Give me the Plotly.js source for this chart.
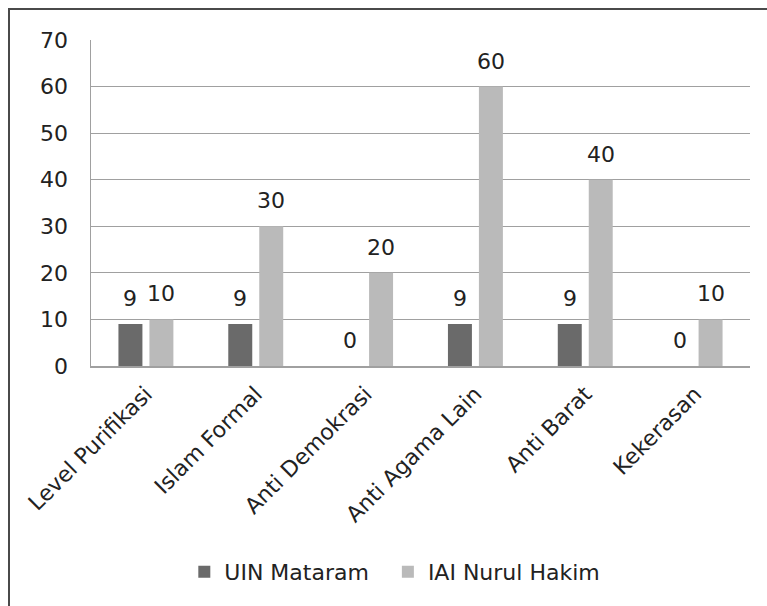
<!DOCTYPE html>
<html>
<head>
<meta charset="utf-8">
<script src="https://cdn.plot.ly/plotly-3.0.1.min.js"></script>
<style>
html,body{margin:0;padding:0;background:#fff;overflow:hidden;}
#wrap{position:relative;width:767px;height:606px;}
#chart{width:767px;height:606px;}
#frame{position:absolute;left:8px;top:8px;width:900px;height:900px;border-left:2px solid #4a4a4a;border-top:2px solid #4a4a4a;pointer-events:none;}
</style>
</head>
<body>
<div id="wrap"><div id="chart"></div><div id="frame"></div></div>
<script>
const categories = ["Level Purifikasi", "Islam Formal", "Anti Demokrasi", "Anti Agama Lain", "Anti Barat", "Kekerasan"];
const uinMataram = [9, 9, 0, 9, 9, 0];
const iaiNurulHakim = [10, 30, 20, 60, 40, 10];
const seriesNames = ["UIN Mataram", "IAI Nurul Hakim"];
const yTicks = [0, 10, 20, 30, 40, 50, 60, 70];

const FONT = "DejaVu Sans";
const FS = 22;
const colors = ["#6a6a6a", "#bababa"];
const allSeries = [uinMataram, iaiNurulHakim];

const traces = allSeries.map((vals, i) => ({
  type: "bar",
  name: i === 0 ? seriesNames[i] + "\u00a0\u00a0" : seriesNames[i],
  x: categories,
  y: vals,
  marker: {color: colors[i], line: {width: 0}},
  hoverinfo: "none"
}));

const annotations = [];
allSeries.forEach((vals, s) => {
  vals.forEach((v, i) => {
    annotations.push({
      x: categories[i], y: v, xref: "x", yref: "y",
      text: String(v), showarrow: false,
      xanchor: "center", yanchor: "bottom",
      xshift: s === 0 ? -15.5 : 15.5, yshift: 11,
      font: {family: FONT, size: FS, color: "#222"}
    });
  });
});

const layout = {
  width: 767, height: 606,
  margin: {l: 91, r: 17, t: 40, b: 240, pad: 0},
  paper_bgcolor: "#fff", plot_bgcolor: "#fff",
  font: {family: FONT, size: FS, color: "#222"},
  barmode: "group",
  bargap: 0.436,
  bargroupgap: 0.226,
  showlegend: true,
  legend: {
    orientation: "h", x: 0.1416, xanchor: "left", y: -0.632, yanchor: "middle",
    font: {family: FONT, size: FS, color: "#222"},
    traceorder: "normal", itemclick: false
  },
  xaxis: {
    type: "category",
    tickangle: -45,
    showline: true, linecolor: "#a0a0a0", linewidth: 1.5,
    showgrid: false, ticks: "", zeroline: false,
    tickfont: {family: FONT, size: FS, color: "#222"},
    ticklabelstandoff: 5
  },
  yaxis: {
    range: [0, 70],
    tickvals: yTicks,
    ticktext: yTicks.map(String),
    showline: true, linecolor: "#a0a0a0", linewidth: 1.5,
    showgrid: true, gridcolor: "#a0a0a0", gridwidth: 1,
    zeroline: false, ticks: "",
    tickfont: {family: FONT, size: FS, color: "#222"},
    ticklabelstandoff: 17
  },
  annotations: annotations
};

Plotly.newPlot("chart", traces, layout, {staticPlot: true, displayModeBar: false});
</script>
</body>
</html>
